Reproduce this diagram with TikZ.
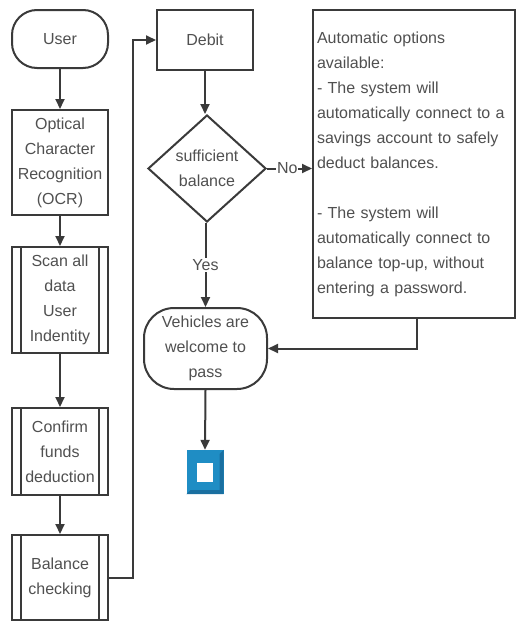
\documentclass[tikz,border=0pt]{standalone}
\usepackage{fontspec}
\setmainfont{Liberation Sans}
\usetikzlibrary{shapes.geometric,arrows.meta}
\definecolor{linec}{HTML}{3A3A3A}
\definecolor{textc}{HTML}{505050}
\definecolor{endblue}{HTML}{1F8DC4}
\definecolor{endblued}{HTML}{1A6FA0}
\tikzset{
  base/.style={draw=linec, line width=2pt, text=textc, align=center, inner sep=0pt,
    font=\fontsize{16pt}{25pt}\selectfont},
  procbox/.style={base, rectangle},
  termbox/.style={base, rectangle, rounded corners=#1},
  subproc/.style={base, rectangle,
    path picture={
      \draw[linec, line width=1.8pt]
        ([xshift=9pt]path picture bounding box.north west) -- ([xshift=9pt]path picture bounding box.south west)
        ([xshift=-9pt]path picture bounding box.north east) -- ([xshift=-9pt]path picture bounding box.south east);
    }},
  decision/.style={base, diamond},
  conn/.style={draw=linec, line width=2pt, -{Triangle[length=10pt,width=9pt]}},
  lbl/.style={text=textc, fill=white, inner sep=1pt, font=\fontsize{16pt}{25pt}\selectfont}
}
\begin{document}
\begin{tikzpicture}[x=1pt,y=-1pt]
\useasboundingbox (0,0) rectangle (517,624);
\fill[white] (0,0) rectangle (517,624);

% left column
\node[termbox=25pt, minimum width=96pt, minimum height=58pt] (user) at (60,39) {User};
\node[procbox, minimum width=96pt, minimum height=105pt] (ocr) at (60,162.5) {Optical\\Character\\Recognition\\(OCR)};
\node[subproc, minimum width=96pt, minimum height=106pt] (scan) at (60,300) {Scan all\\data\\User\\Indentity};
\node[subproc, minimum width=96pt, minimum height=87pt] (conf) at (60,451.5) {Confirm\\funds\\deduction};
\node[subproc, minimum width=96pt, minimum height=85pt] (bal) at (60,577.5) {Balance\\checking};

% middle column
\node[procbox, minimum width=96pt, minimum height=60pt] (debit) at (205,40) {Debit};
\node[decision, minimum width=118pt, minimum height=107pt] (dec) at (207,168.5) {sufficient\\balance};
\node[termbox=30pt, minimum width=123pt, minimum height=81pt] (veh) at (205.5,348.5) {Vehicles are\\welcome to\\pass};

% end symbol
\node[fill=endblue, minimum width=37pt, minimum height=44pt, inner sep=0pt] (end) at (205,472) {};
\fill[endblued] (end.north east) -- (end.south east) -- (end.south west) -- ([xshift=4pt,yshift=4pt]end.south west) -- ([xshift=-4pt,yshift=4pt]end.south east) -- ([xshift=-4pt,yshift=-4pt]end.north east) -- cycle;
\node[fill=white, minimum width=16pt, minimum height=19pt, inner sep=0pt] (endin) at (end.center) {};

% right box
\node[procbox, minimum width=202pt, minimum height=308pt, text width=194pt, align=left] (auto) at (414,164)
{Automatic options\\available:\\- The system will\\automatically connect to a\\savings account to safely\\deduct balances.\\[25pt]- The system will\\automatically connect to\\balance top-up, without\\entering a password.};

% connectors
\draw[conn] (user) -- (ocr);
\draw[conn] (ocr) -- (scan);
\draw[conn] (scan) -- (conf);
\draw[conn] (conf) -- (bal);
\coordinate (c1) at (133,577.5);
\draw[conn] (bal.east) -- (c1) |- (debit.west);
\draw[conn] (debit.south) -- (debit.south |- dec.north);
\draw[conn] (dec.east) -- (auto.west |- dec.east) node[lbl, pos=0.45] {No};
\draw[conn] (dec.south -| veh.north) -- (veh.north) node[lbl, pos=0.5] {Yes};
\coordinate (c2) at (417,318);
\draw[conn] (c2) |- (veh.east);
\draw[conn] (veh.south) -- (end.north);
\end{tikzpicture}
\end{document}
